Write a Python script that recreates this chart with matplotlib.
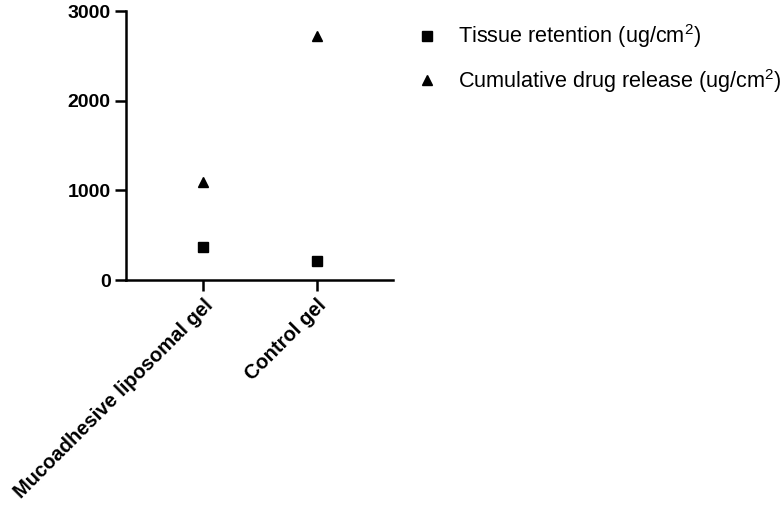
import matplotlib.pyplot as plt
import numpy as np

plt.rcParams['font.family'] = ['Liberation Sans', 'DejaVu Sans']
plt.rcParams['mathtext.default'] = 'regular'

groups = ["Mucoadhesive liposomal gel", "Control gel"]
tissue_retention = [370, 212]
cumulative_release = [1093, 2720]
yticks = [0, 1000, 2000, 3000]

fig = plt.figure(figsize=(7.84, 5.07), dpi=100)
ax = fig.add_axes([0.1607, 0.4477, 0.3405, 0.5303])

x = np.arange(len(groups))
ax.plot(x, tissue_retention, 's', color='black', markersize=7.5, linestyle='none',
        label='Tissue retention (ug/cm$^2$)')
ax.plot(x, cumulative_release, '^', color='black', markersize=7.5, linestyle='none',
        label='Cumulative drug release (ug/cm$^2$)')

ax.set_xlim(-0.675, 1.667)
ax.set_ylim(0, 3000)
ax.set_yticks(yticks)
ax.set_xticks(x)
ax.set_xticklabels(groups, rotation=45, ha='right', rotation_mode='anchor',
                   fontweight='bold', fontsize=14.5)
for lab in ax.get_yticklabels():
    lab.set_fontweight('bold')
    lab.set_fontsize(14)

for side in ['top', 'right']:
    ax.spines[side].set_visible(False)
for side in ['left', 'bottom']:
    ax.spines[side].set_linewidth(1.8)
ax.spines['left'].set_bounds(0, 3000)
ax.tick_params(width=1.8, length=8, direction='out', pad=3)

fig.legend(loc='upper left', bbox_to_anchor=(0.506, 0.994), frameon=False,
           fontsize=15.6, handlelength=1.0, handletextpad=0.93, labelspacing=0.75)

fig.savefig('out.png', dpi=100)
